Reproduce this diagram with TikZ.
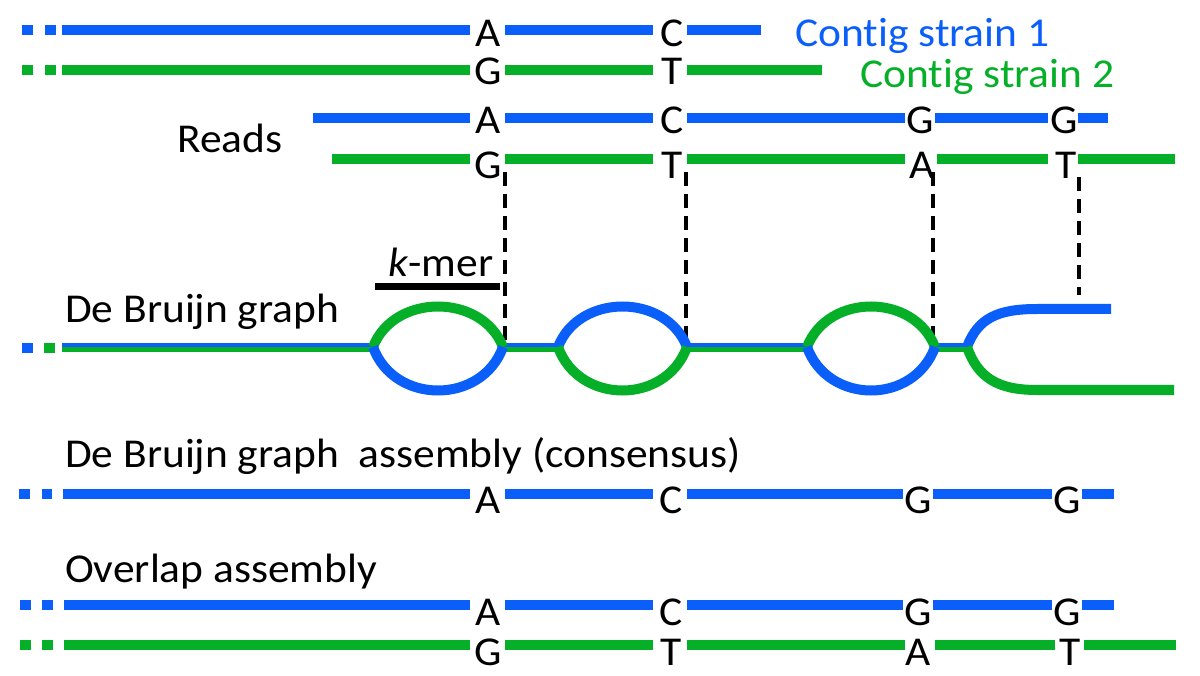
\documentclass[tikz,border=0pt]{standalone}
\usepackage{fontspec}
\setmainfont{Carlito}[FakeStretch=1.06,Ligatures={NoCommon}]
\definecolor{sblue}{RGB}{10,95,250}
\definecolor{sgreen}{RGB}{5,175,40}
\begin{document}
\begin{tikzpicture}[x=1pt,y=-1pt,
  strand/.style={line width=10pt},
  bl/.style={strand,draw=sblue},
  gr/.style={strand,draw=sgreen},
  thinbl/.style={line width=4.5pt,draw=sblue},
  thingr/.style={line width=4.5pt,draw=sgreen},
  dsh/.style={draw=black,line width=3.2pt,dash pattern=on 14pt off 8pt},
  txt/.style={font=\fontsize{41}{41}\selectfont,inner sep=0pt},
  nt/.style={txt,anchor=base},
  lbl/.style={txt,anchor=base west}]
\useasboundingbox (0,0) rectangle (1200,676);
% ---- contigs
\draw[bl] (22,30)--(33,30) (45,30)--(56,30) (62,30)--(470,30) (505,30)--(653,30) (687,30)--(761,30);
\draw[gr] (22,70)--(33,70) (45,70)--(56,70) (62,70)--(470,70) (505,70)--(653,70) (687,70)--(822,70);
\node[nt] (c1a) at (488,47) {A};
\node[nt] (c1c) at (672,47) {C};
\node[nt] (c2g) at (488,85) {G};
\node[nt] (c2t) at (672,85) {T};
\node[lbl,text=sblue] (s1) at (795,47) {Contig strain 1};
\node[lbl,text=sgreen] (s2) at (860,88) {Contig strain 2};
% ---- reads
\draw[bl] (313,118)--(470,118) (505,118)--(653,118) (687,118)--(905,118) (935,118)--(1048,118) (1078,118)--(1108,118);
\draw[gr] (332,159)--(470,159) (505,159)--(653,159) (687,159)--(905,159) (937,159)--(1048,159) (1078,159)--(1175,159);
\node[nt] (r1a) at (488,134) {A};
\node[nt] (r1c) at (672,134) {C};
\node[nt] (r1g) at (920,134) {G};
\node[nt] (r1g2) at (1064,134) {G};
\node[nt] (r2g) at (488,179) {G};
\node[nt] (r2t) at (672,179) {T};
\node[nt] (r2a) at (922,179) {A};
\node[nt] (r2t2) at (1066,179) {T};
\node[lbl] (reads) at (177,153) {Reads};
% ---- dashed guides
\coordinate (d1t) at (505,172); \coordinate (d1b) at (505,345);
\coordinate (d2t) at (686,172); \coordinate (d2b) at (686,345);
\coordinate (d3t) at (933,172); \coordinate (d3b) at (933,342);
\coordinate (d4t) at (1079,177); \coordinate (d4b) at (1079,295);
\draw[dsh] (d1t)--(d1b);
\draw[dsh] (d2t)--(d2b);
\draw[dsh] (d3t)--(d3b);
\draw[dsh] (d4t)--(d4b);
% ---- k-mer
\draw[line width=7pt] (375,287)--(500,287);
\node[lbl] (kmer) at (388,277) {\textit{k}-mer};
% ---- De Bruijn graph
\node[lbl] (dbg) at (65,323) {De Bruijn graph};
\draw[strand,draw=sblue] (22,348)--(33,348);
\draw[strand,draw=sgreen] (44,348)--(55,348);
\draw[thinbl] (62,345)--(373,345) (503,345)--(558,345) (687,345)--(807,345) (935,345)--(967,345);
\draw[thingr] (62,349.5)--(373,349.5) (503,349.5)--(558,349.5) (687,349.5)--(807,349.5) (935,349.5)--(967,349.5);
% bubble 1
\draw[gr] (373,347) .. controls (394,293) and (482,293) .. (503,347);
\draw[bl] (373,347) .. controls (394,405) and (482,405) .. (503,347);
% bubble 2
\draw[bl] (558,347) .. controls (579,293) and (666,293) .. (687,347);
\draw[gr] (558,347) .. controls (579,405) and (666,405) .. (687,347);
% bubble 3
\draw[gr] (807,347) .. controls (828,293) and (914,293) .. (935,347);
\draw[bl] (807,347) .. controls (828,405) and (914,405) .. (935,347);
% fork
\draw[bl] (967,347) .. controls (978,318) and (998,309) .. (1037,309) -- (1111,309);
\draw[gr] (967,347) .. controls (978,378) and (998,390) .. (1037,390) -- (1174,390);
% ---- consensus
\node[lbl] (cons) at (65,467) {De Bruijn graph\ \ assembly (consensus)};
\draw[bl] (19,494)--(30,494) (42,494)--(52,494) (63,494)--(470,494) (505,494)--(653,494) (687,494)--(903,494) (933,494)--(1052,494) (1082,494)--(1114,494);
\node[nt] (ca) at (488,513) {A};
\node[nt] (cc) at (671,513) {C};
\node[nt] (cg) at (918,513) {G};
\node[nt] (cg2) at (1067,513) {G};
% ---- overlap
\node[lbl] (ovl) at (65,582) {Overlap assembly};
\draw[bl] (20,605)--(31,605) (42,605)--(53,605) (64,605)--(470,605) (505,605)--(653,605) (687,605)--(903,605) (933,605)--(1052,605) (1082,605)--(1114,605);
\draw[gr] (20,645)--(31,645) (42,645)--(53,645) (64,645)--(470,645) (505,645)--(653,645) (687,645)--(905,645) (935,645)--(1055,645) (1084,645)--(1176,645);
\node[nt] (oa) at (488,625) {A};
\node[nt] (oc) at (671,625) {C};
\node[nt] (og) at (918,625) {G};
\node[nt] (og2) at (1067,625) {G};
\node[nt] (og3) at (488,665) {G};
\node[nt] (ot) at (671,665) {T};
\node[nt] (oa2) at (918,665) {A};
\node[nt] (ot2) at (1070,665) {T};
\end{tikzpicture}
\end{document}
